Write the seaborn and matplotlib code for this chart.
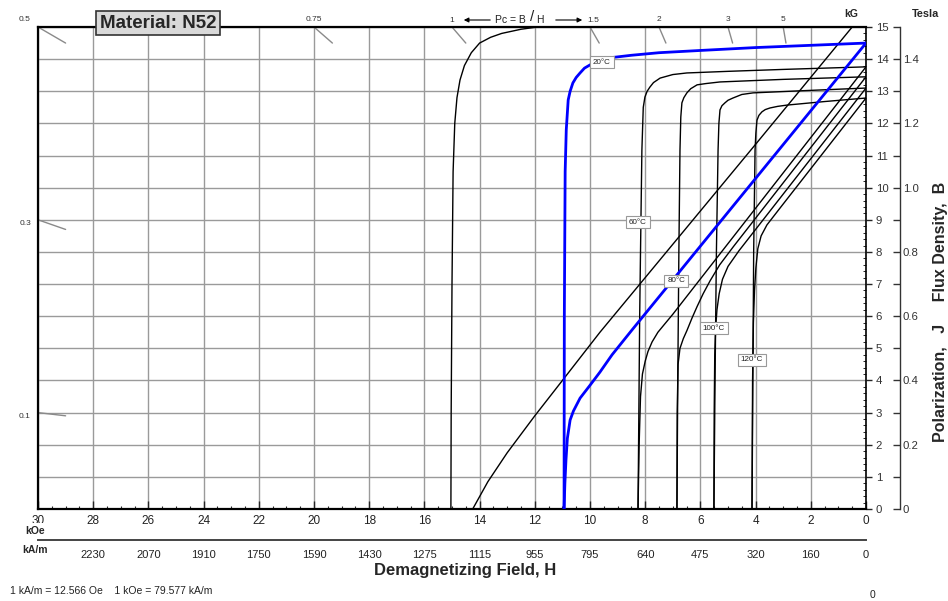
import numpy as np
import pandas as pd
import matplotlib
matplotlib.use('Agg')
import matplotlib.pyplot as plt
from matplotlib.ticker import MultipleLocator, FuncFormatter
import seaborn as sns

# ---------------- data (H in kOe, B / J in kG) ----------------
# 20 C intrinsic (J) curve - blue
j20_H = [0, 2, 4, 6, 7.5, 8.5, 9.2, 9.7, 10.0, 10.2, 10.36, 10.5, 10.62, 10.72, 10.79, 10.86, 10.9, 10.93, 10.94]
j20_B = [14.5, 14.43, 14.36, 14.27, 14.2, 14.12, 14.05, 13.93, 13.82, 13.72, 13.57, 13.43, 13.26, 13.0, 12.73, 11.8, 10.5, 6.0, 0]
# 20 C normal (B) curve - blue
b20_H = [0, 8.48, 9.2, 9.64, 10.0, 10.36, 10.6, 10.72, 10.82, 10.87, 10.91, 10.94]
b20_B = [14.5, 5.57, 4.8, 4.26, 3.85, 3.45, 3.05, 2.77, 2.2, 1.53, 0.8, 0]
# unlabeled leftmost intrinsic curve
jc_H = [11.9, 12.5, 13.2, 13.6, 14.0, 14.3, 14.55, 14.71, 14.82, 14.9, 14.96, 15.0, 15.03, 15.04]
jc_B = [15.0, 14.93, 14.8, 14.68, 14.5, 14.2, 13.8, 13.35, 12.8, 12.0, 10.5, 7.0, 3.0, 0]
# unlabeled leftmost normal curve
bc_H = [0.5, 4.0, 8.0, 9.64, 11.0, 12.0, 13.0, 13.7, 14.25]
bc_B = [15.0, 11.35, 7.2, 5.5, 4.0, 2.9, 1.75, 0.85, 0]
# 60 C
j60_H = [0, 3, 5, 6.49, 7.0, 7.46, 7.7, 7.83, 7.93, 8.01, 8.07, 8.12, 8.17, 8.2, 8.23, 8.26]
j60_B = [13.76, 13.68, 13.62, 13.57, 13.52, 13.41, 13.27, 13.13, 13.0, 12.82, 12.5, 11.17, 8.0, 6.0, 3.0, 0]
b60_H = [0, 7.0, 7.3, 7.54, 7.75, 7.9, 8.0, 8.1, 8.17, 8.22, 8.26]
b60_B = [13.76, 6.06, 5.75, 5.5, 5.2, 4.9, 4.6, 4.2, 3.5, 2.0, 0]
# 80 C
j80_H = [0, 3, 5.29, 5.8, 6.12, 6.35, 6.49, 6.6, 6.67, 6.71, 6.74, 6.78, 6.82, 6.85]
j80_B = [13.45, 13.37, 13.29, 13.24, 13.2, 13.08, 12.95, 12.8, 12.64, 12.2, 11.17, 8.0, 4.0, 0]
b80_H = [0, 4.8, 5.3, 5.65, 5.9, 6.12, 6.3, 6.49, 6.62, 6.74, 6.81, 6.84, 6.85]
b80_B = [13.45, 8.17, 7.6, 7.1, 6.7, 6.3, 5.95, 5.55, 5.3, 5.0, 4.5, 3.0, 0]
# 100 C
j100_H = [0, 2.5, 4.09, 4.5, 4.82, 5.0, 5.11, 5.22, 5.29, 5.33, 5.36, 5.42, 5.47, 5.51]
j100_B = [13.1, 13.01, 12.95, 12.9, 12.79, 12.72, 12.64, 12.55, 12.42, 12.0, 11.17, 8.0, 4.0, 0]
b100_H = [0, 4.6, 5.0, 5.2, 5.32, 5.4, 5.45, 5.48, 5.5, 5.51]
b100_B = [13.1, 8.04, 7.55, 7.15, 6.7, 6.2, 5.6, 4.8, 3.0, 0]
# 120 C
j120_H = [0, 1.5, 2.86, 3.2, 3.48, 3.65, 3.77, 3.88, 3.95, 3.99, 4.02, 4.07, 4.1, 4.13]
j120_B = [12.79, 12.68, 12.57, 12.53, 12.48, 12.43, 12.36, 12.25, 12.1, 11.7, 11.17, 8.0, 4.0, 0]
b120_H = [0, 3.12, 3.59, 3.8, 3.92, 3.99, 4.04, 4.08, 4.11, 4.13]
b120_B = [12.79, 9.36, 8.84, 8.5, 8.1, 7.5, 6.8, 5.8, 4.0, 0]

temp_labels = ['20°C', '60°C', '80°C', '100°C', '120°C']
temp_label_H = [9.57, 8.26, 6.88, 5.51, 4.13]
temp_label_B = [13.91, 8.93, 7.1, 5.63, 4.64]

pc_top = [0.5, 0.75, 1, 1.5, 2, 3, 5]
pc_top_labels = ['0.5', '0.75', '1', '1.5', '2', '3', '5']
pc_left = [0.3, 0.1]
pc_left_labels = ['0.3', '0.1']

koe_ticks = list(range(0, 31, 2))
koe_labels = [str(v) for v in koe_ticks]
kam_ticks = [28, 26, 24, 22, 20, 18, 16, 14, 12, 10, 8, 6, 4, 2, 0]
kam_labels = ['2230', '2070', '1910', '1750', '1590', '1430', '1275', '1115',
              '955', '795', '640', '475', '320', '160', '0']
kg_ticks = list(range(0, 16))
tesla_ticks = [round(0.1 * i, 1) for i in range(16)]

# ---------------- style ----------------
sns.set_style('white')
plt.rcParams['font.family'] = ['Liberation Sans', 'DejaVu Sans']

W, Hpx = 948, 601
fig = plt.figure(figsize=(W / 100, Hpx / 100), dpi=100)

def fx(x):
    return x / W

def fy(y):
    return 1 - y / Hpx

L, R, T, Bt = 38, 866, 27, 509
rect = [fx(L), fy(Bt), (R - L) / W, (Bt - T) / Hpx]
ax = fig.add_axes(rect)
ax.set_xlim(30, 0)
ax.set_ylim(0, 15)

# grid
ax.set_axisbelow(True)
ax.set_xticks(koe_ticks)
ax.set_xticklabels(koe_labels)
ax.set_yticks(kg_ticks)
ax.set_yticklabels([str(v) for v in kg_ticks])
ax.grid(True, which='major', color='#9a9a9a', lw=1.0)
ax.xaxis.set_minor_locator(MultipleLocator(0.5))
ax.yaxis.set_minor_locator(MultipleLocator(0.2))

# curves
curves = [
    (jc_H, jc_B, 'black', 1.0), (bc_H, bc_B, 'black', 1.0),
    (j60_H, j60_B, 'black', 1.0), (b60_H, b60_B, 'black', 1.0),
    (j80_H, j80_B, 'black', 1.0), (b80_H, b80_B, 'black', 1.0),
    (j100_H, j100_B, 'black', 1.0), (b100_H, b100_B, 'black', 1.0),
    (j120_H, j120_B, 'black', 1.0), (b120_H, b120_B, 'black', 1.0),
    (j20_H, j20_B, '#0000ff', 2.0), (b20_H, b20_B, '#0000ff', 2.0),
]
for h, b, c, lw in curves:
    df = pd.DataFrame({'H': h, 'B': b})
    sns.lineplot(data=df, x='H', y='B', ax=ax, color=c, lw=lw, sort=False,
                 estimator=None, zorder=3)

# permeance coefficient ticks
for pc, lab in zip(pc_top, pc_top_labels):
    h0, h1 = 15.0 / pc, 14.5 / pc
    ax.plot([h0, h1], [15.0, 14.5], color='#8a8a8a', lw=1.0, zorder=2)
    if lab in ('1', '1.5'):
        continue
    xh = h0 + (0.5 if pc == 0.5 else 0)
    ax.text(xh, 15.22, lab, fontsize=6, color='#333', ha='center', va='center', clip_on=False)
for pc, lab in zip(pc_left, pc_left_labels):
    ax.plot([30, 29], [30 * pc, 29 * pc], color='#8a8a8a', lw=1.0, zorder=2)
    ax.text(30.47, 30 * pc - 0.12, lab, fontsize=6, color='#333', ha='center', va='center', clip_on=False)

# temperature labels
for lab, h, b in zip(temp_labels, temp_label_H, temp_label_B):
    ax.text(h, b, lab, fontsize=5.8, color='#222', ha='center', va='center', zorder=5,
            bbox=dict(boxstyle='square,pad=0.35', fc='white', ec='#999999', lw=0.8))

# spines / ticks
for s in ['left', 'top', 'bottom']:
    ax.spines[s].set_color('black')
    ax.spines[s].set_linewidth(1.6)
ax.spines['right'].set_color('black')
ax.spines['right'].set_linewidth(1.2)
ax.set_xlabel('')
ax.set_ylabel('')
ax.yaxis.tick_right()
ax.tick_params(axis='x', which='major', direction='in', length=6, width=1.0,
               labelsize=8.5, pad=4, labelcolor='#222', bottom=True, top=False)
ax.tick_params(axis='x', which='minor', direction='in', length=2.5, width=0.8, bottom=True, top=False)
ax.tick_params(axis='y', which='major', direction='out', length=4, width=1.0,
               labelsize=8.2, pad=3, labelcolor='#333', right=True, left=False)
ax.tick_params(axis='y', which='minor', direction='in', length=2.5, width=0.7, right=True, left=False)

# Tesla axis
axT = fig.add_axes(rect)
axT.patch.set_visible(False)
axT.set_ylim(0, 1.5)
axT.set_xticks([])
for s in ['left', 'top', 'bottom']:
    axT.spines[s].set_visible(False)
axT.spines['right'].set_position(('outward', 24.5))
axT.spines['right'].set_color('#333')
axT.spines['right'].set_linewidth(1.0)
axT.yaxis.tick_right()
axT.set_yticks(tesla_ticks)

def tfmt(v, pos):
    k = int(round(v * 10))
    if k % 2:
        return ''
    return '0' if k == 0 else f'{v:.1f}'

axT.yaxis.set_major_formatter(FuncFormatter(tfmt))
axT.tick_params(axis='y', direction='in', length=5, width=1.0, color='#333',
                labelsize=8.2, pad=2, labelcolor='#333')

# kA/m axis
ax3 = fig.add_axes([fx(L), fy(540), (R - L) / W, 0.0001])
ax3.patch.set_visible(False)
ax3.set_xlim(30, 0)
for s in ['top', 'left', 'right']:
    ax3.spines[s].set_visible(False)
ax3.spines['bottom'].set_color('#444')
ax3.spines['bottom'].set_linewidth(1.4)
ax3.set_yticks([])
ax3.set_xticks(kam_ticks)
ax3.set_xticklabels(kam_labels)
ax3.tick_params(axis='x', direction='out', length=5, width=1.1, color='#444',
                labelsize=8, pad=2, labelcolor='#222')

# texts
fig.text(fx(158), fy(23), 'Material: N52', fontsize=13.5, fontweight='bold', ha='center', va='center',
         bbox=dict(boxstyle='square,pad=0.18', fc='#d9d9d9', ec='#333333', lw=1.2))
fig.text(fx(35), fy(531), 'kOe', fontsize=7.5, fontweight='bold', ha='center', va='center',
         bbox=dict(boxstyle='square,pad=0.25', fc='white', ec='none'))
fig.text(fx(35), fy(550), 'kA/m', fontsize=7.5, fontweight='bold', ha='center', va='center')
fig.text(fx(465), fy(570), 'Demagnetizing Field, H', fontsize=12, fontweight='bold', ha='center', va='center')
fig.text(fx(10), fy(591), '1 kA/m = 12.566 Oe    1 kOe = 79.577 kA/m', fontsize=7.5, ha='left',
         va='center', color='#222')
fig.text(fx(872), fy(595), '0', fontsize=7.5, ha='center', va='center', color='#222')
fig.text(fx(851), fy(14), 'kG', fontsize=7.5, fontweight='bold', ha='center', va='center')
fig.text(fx(925), fy(14), 'Tesla', fontsize=7.8, fontweight='bold', ha='center', va='center')
fig.text(fx(940), fy(312), 'Polarization,   J     Flux Density,  B', fontsize=11.5, fontweight='bold',
         rotation=90, ha='center', va='center')

# Pc banner
fig.text(fx(452), fy(20), '1', fontsize=6, ha='center', va='center', color='#333')
fig.text(fx(593), fy(20), '1.5', fontsize=6, ha='center', va='center', color='#333')
fig.text(fx(510), fy(20), 'Pc = B', fontsize=7.5, ha='center', va='center', color='#222')
fig.text(fx(532), fy(17), '/', fontsize=11, ha='center', va='center', color='#222')
fig.text(fx(540), fy(20), 'H', fontsize=7.5, ha='center', va='center', color='#222')
fig.add_artist(matplotlib.patches.FancyArrowPatch((fx(493), fy(20)), (fx(461), fy(20)),
               transform=fig.transFigure, arrowstyle='-|>', mutation_scale=7, lw=0.8, color='black'))
fig.add_artist(matplotlib.patches.FancyArrowPatch((fx(553), fy(20)), (fx(585), fy(20)),
               transform=fig.transFigure, arrowstyle='-|>', mutation_scale=7, lw=0.8, color='black'))

fig.savefig('out.png', dpi=100)
